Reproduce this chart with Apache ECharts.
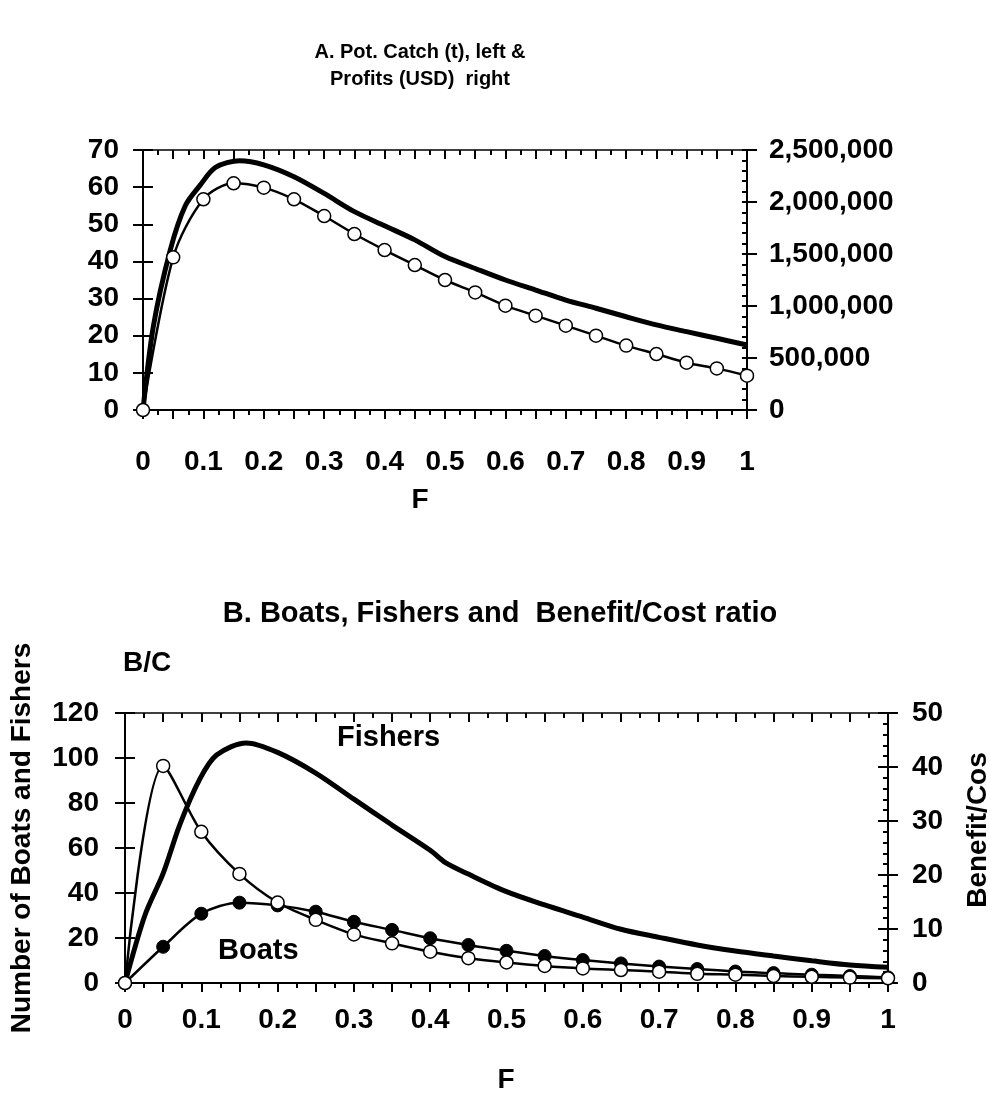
<!DOCTYPE html>
<html>
<head>
<meta charset="utf-8">
<script src="https://cdn.jsdelivr.net/npm/echarts@6/dist/echarts.min.js"></script>
<style>
html,body{margin:0;padding:0;background:#fff;}
#c{width:990px;height:1094px;}
</style>
</head>
<body>
<div id="c"></div>
<script>
// ---------- DATA ----------
// Panel A
const catchF = [0, 0.017, 0.045, 0.07, 0.095, 0.12, 0.16, 0.2, 0.25, 0.3, 0.35, 0.4, 0.45, 0.5, 0.55, 0.6, 0.65, 0.7, 0.75, 0.8, 0.85, 0.9, 0.95, 1];
const catchT = [0, 22.4, 43, 55, 60.6, 65.3, 67.1, 66, 62.8, 58.3, 53.4, 49.6, 45.8, 41.3, 38.1, 35, 32.3, 29.6, 27.4, 25.1, 22.9, 21.1, 19.3, 17.5];
const stepF = [0, 0.05, 0.1, 0.15, 0.2, 0.25, 0.3, 0.35, 0.4, 0.45, 0.5, 0.55, 0.6, 0.65, 0.7, 0.75, 0.8, 0.85, 0.9, 0.95, 1];
const profitUSD = [0, 1468000, 2026000, 2180000, 2138000, 2026000, 1865000, 1692000, 1538000, 1394000, 1250000, 1131000, 1003000, 907000, 811000, 715000, 619000, 538000, 455000, 400000, 330000];
// Panel B
const fishersF = [0, 0.026, 0.05, 0.072, 0.098, 0.12, 0.159, 0.2, 0.25, 0.3, 0.35, 0.4, 0.42, 0.45, 0.5, 0.55, 0.6, 0.65, 0.7, 0.75, 0.8, 0.85, 0.9, 0.95, 1];
const fishersN = [0, 30, 48.7, 70.5, 90.6, 101.3, 106.7, 102.5, 93.3, 81.7, 70.2, 59, 53.5, 48.4, 40.6, 34.7, 29.3, 23.9, 20.3, 16.9, 14.2, 12, 9.9, 8, 7];
const boatsN = [0, 16.1, 30.8, 35.7, 34.5, 31.7, 27.2, 23.6, 19.9, 16.9, 14.3, 12, 10.2, 8.7, 7.3, 6.2, 5.1, 4.4, 3.7, 3.1, 2.5];
const bcRatio = [0, 40.2, 28.0, 20.2, 14.9, 11.7, 9.0, 7.35, 5.8, 4.6, 3.8, 3.15, 2.7, 2.4, 2.1, 1.7, 1.55, 1.3, 1.15, 1.0, 0.87];
// Tick labels
const xTickLabels = ['0', '0.1', '0.2', '0.3', '0.4', '0.5', '0.6', '0.7', '0.8', '0.9', '1'];
const catchTicks = ['0', '10', '20', '30', '40', '50', '60', '70'];
const profitTicks = ['0', '500,000', '1,000,000', '1,500,000', '2,000,000', '2,500,000'];
const numTicks = ['0', '20', '40', '60', '80', '100', '120'];
const bcTicks = ['0', '10', '20', '30', '40', '50'];

// ---------- CHART ----------
const FONT = '"Liberation Sans", Arial, sans-serif';
const TICKFS = 28;
const pairs = (xs, ys) => xs.map((x, i) => [x, ys[i]]);
const chart = echarts.init(document.getElementById('c'), null, {renderer: 'canvas'});

function xLabelFmt(v) {
  const k = Math.round(v * 10);
  if (Math.abs(v * 10 - k) > 1e-6) return '';
  return xTickLabels[k];
}
function xPair(gridIndex, margin) {
  const base = {
    type: 'value', gridIndex, min: 0, max: 1, interval: 0.05,
    splitLine: {show: false}
  };
  return [
    Object.assign({}, base, {
      axisLine: {show: true, onZero: false, lineStyle: {color: '#000', width: 2}},
      axisTick: {show: true, inside: false, length: 9, lineStyle: {color: '#000', width: 2}},
      minorTick: {show: true, splitNumber: 2, length: 5, lineStyle: {color: '#000', width: 2}},
      axisLabel: {show: true, margin, color: '#000', fontFamily: FONT, fontWeight: 'bold', fontSize: TICKFS, formatter: xLabelFmt}
    }),
    Object.assign({}, base, {
      axisLine: {show: false, onZero: false},
      axisTick: {show: true, inside: true, length: 9, lineStyle: {color: '#000', width: 2}},
      minorTick: {show: true, splitNumber: 2, length: 5, lineStyle: {color: '#000', width: 2}},
      axisLabel: {show: false}
    })
  ];
}
function yPair(gridIndex, position, max, interval, labels, margin, outLen, inLen, minor) {
  const base = {
    type: 'value', gridIndex, position, min: 0, max, interval,
    splitLine: {show: false}
  };
  return [
    Object.assign({}, base, {
      axisLine: {show: true, onZero: false, lineStyle: {color: '#000', width: 2}},
      axisTick: {show: true, inside: false, length: outLen, lineStyle: {color: '#000', width: 2}},
      axisLabel: {show: true, margin, color: '#000', fontFamily: FONT, fontWeight: 'bold', fontSize: TICKFS,
        formatter: v => labels[Math.round(v / interval)]}
    }),
    Object.assign({}, base, {
      axisLine: {show: false, onZero: false},
      axisTick: {show: true, inside: true, length: inLen, lineStyle: {color: '#000', width: 2}},
      minorTick: {show: !!minor, splitNumber: 5, length: 5, lineStyle: {color: '#000', width: 2}},
      axisLabel: {show: false}
    })
  ];
}

const thick = {color: '#000', width: 5};
const thin = {color: '#000', width: 2.5};
const openSym = {color: '#fff', borderColor: '#000', borderWidth: 1.5};
const fillSym = {color: '#000', borderColor: '#000', borderWidth: 1};

const txt = (x, y, text, size, extra) => Object.assign({
  type: 'text', x, y, z: 100,
  style: Object.assign({text, fill: '#000', font: 'bold ' + size + 'px ' + FONT, textAlign: 'center', textVerticalAlign: 'middle'}, extra || {})
});

const option = {
  animation: false,
  backgroundColor: '#fff',
  grid: [
    {left: 143, top: 150, width: 604, height: 260, show: true, borderColor: '#000', borderWidth: 1.5, backgroundColor: 'transparent'},
    {left: 125, top: 713, width: 763, height: 270, show: true, borderColor: '#000', borderWidth: 1.5, backgroundColor: 'transparent'}
  ],
  xAxis: [...xPair(0, 38), ...xPair(1, 23)],
  yAxis: [
    ...yPair(0, 'left', 70, 10, catchTicks, 24, 10, 10, false),
    ...yPair(0, 'right', 2500000, 500000, profitTicks, 22, 10, 5, true),
    ...yPair(1, 'left', 120, 20, numTicks, 26, 10, 10, false),
    ...yPair(1, 'right', 50, 10, bcTicks, 24, 10, 10, true)
  ],
  series: [
    {type: 'line', xAxisIndex: 0, yAxisIndex: 0, data: pairs(catchF, catchT), showSymbol: false, smooth: 0.3, lineStyle: thick, clip: false, z: 2},
    {type: 'line', xAxisIndex: 0, yAxisIndex: 2, data: pairs(stepF, profitUSD), symbol: 'circle', symbolSize: 13, smooth: 0.3, lineStyle: thin, itemStyle: openSym, clip: false, z: 3},
    {type: 'line', xAxisIndex: 2, yAxisIndex: 4, data: pairs(fishersF, fishersN), showSymbol: false, smooth: 0.3, lineStyle: thick, clip: false, z: 2},
    {type: 'line', xAxisIndex: 2, yAxisIndex: 4, data: pairs(stepF, boatsN), symbol: 'circle', symbolSize: 13, smooth: 0.3, lineStyle: thin, itemStyle: fillSym, clip: false, z: 3},
    {type: 'line', xAxisIndex: 2, yAxisIndex: 6, data: pairs(stepF, bcRatio), symbol: 'circle', symbolSize: 13, smooth: 0.3, lineStyle: thin, itemStyle: openSym, clip: false, z: 4}
  ],
  graphic: [
    txt(420, 52, 'A. Pot. Catch (t), left &', 20),
    txt(420, 79, 'Profits (USD)  right', 20),
    txt(420, 500, 'F', 28),
    txt(500, 614, 'B. Boats, Fishers and  Benefit/Cost ratio', 29),
    txt(123, 663, 'B/C', 28, {textAlign: 'left'}),
    txt(337, 738, 'Fishers', 29, {textAlign: 'left'}),
    txt(218, 951, 'Boats', 29, {textAlign: 'left'}),
    txt(506, 1080, 'F', 28),
    {type: 'text', x: 22, y: 838, rotation: Math.PI / 2, z: 100,
      style: {text: 'Number of Boats and Fishers', fill: '#000', font: 'bold 28px ' + FONT, textAlign: 'center', textVerticalAlign: 'middle'}},
    {type: 'text', x: 978, y: 830, rotation: Math.PI / 2, z: 100,
      style: {text: 'Benefit/Cos', fill: '#000', font: 'bold 28px ' + FONT, textAlign: 'center', textVerticalAlign: 'middle'}}
  ]
};
chart.setOption(option);
</script>
</body>
</html>
